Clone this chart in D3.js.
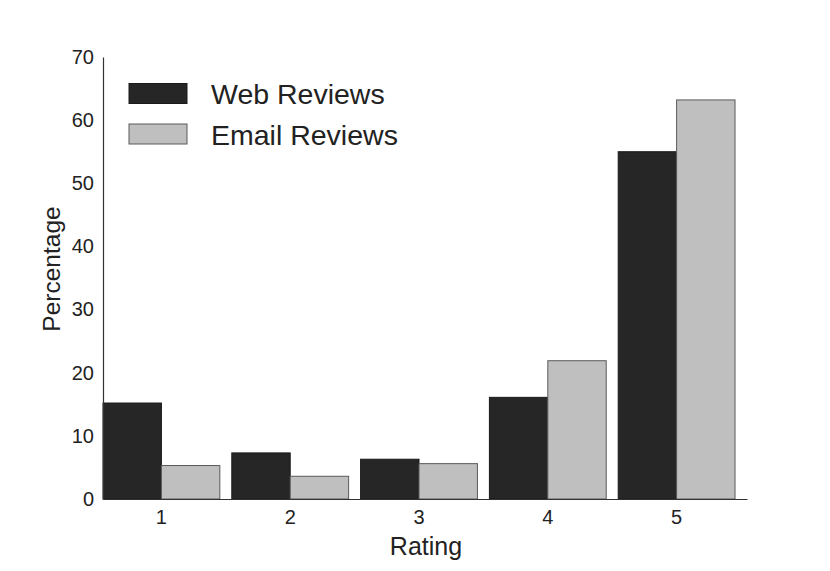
<!DOCTYPE html>
<html>
<head>
<meta charset="utf-8">
<script src="https://cdn.jsdelivr.net/npm/d3@7"></script>
<style>
  body { margin: 0; background: #fff; }
  text { font-family: "Liberation Sans", Arial, sans-serif; fill: #222; }
</style>
</head>
<body>
<svg width="830" height="571"></svg>
<script>
var ratings = ["1", "2", "3", "4", "5"];
var seriesNames = ["Web Reviews", "Email Reviews"];
var webValues = [15.2, 7.3, 6.3, 16.1, 55.0];
var emailValues = [5.3, 3.6, 5.6, 21.9, 63.2];
var yTicks = [0, 10, 20, 30, 40, 50, 60, 70];

var svg = d3.select("svg"),
    plotLeft = 103, plotRight = 747, plotTop = 57, plotBottom = 499;

var fills = ["#262626", "#bfbfbf"],
    strokes = ["#1a1a1a", "#5a5a5a"];

var x = d3.scaleBand()
    .domain(ratings)
    .range([plotLeft, plotRight])
    .paddingInner(0.093)
    .paddingOuter(0.0465)
    .align(0);

var x1 = d3.scaleBand()
    .domain([0, 1])
    .range([0, x.bandwidth()]);

var y = d3.scaleLinear()
    .domain([0, 70])
    .range([plotBottom, plotTop]);

var rows = ratings.map(function(r, i) {
    return {rating: r, values: [webValues[i], emailValues[i]]};
});

// bars
var groups = svg.append("g").selectAll("g")
    .data(rows)
    .enter().append("g")
    .attr("transform", function(d) { return "translate(" + x(d.rating) + ",0)"; });

groups.selectAll("rect")
    .data(function(d) { return d.values; })
    .enter().append("rect")
    .attr("x", function(d, i) { return x1(i); })
    .attr("y", function(d) { return y(d); })
    .attr("width", x1.bandwidth())
    .attr("height", function(d) { return plotBottom - y(d); })
    .attr("fill", function(d, i) { return fills[i]; })
    .attr("stroke", function(d, i) { return strokes[i]; })
    .attr("stroke-width", 1);

// axes
var yAxis = d3.axisLeft(y).tickValues(yTicks).tickSize(0).tickPadding(9);
var xAxis = d3.axisBottom(x).tickSize(0).tickPadding(11);

var gy = svg.append("g")
    .attr("transform", "translate(" + plotLeft + ",0)")
    .call(yAxis);
gy.select(".domain").attr("stroke", "#333").attr("stroke-width", 1.2);
gy.selectAll("text").style("font-size", "20px").attr("fill", "#222");

var gx = svg.append("g")
    .attr("transform", "translate(0," + plotBottom + ")")
    .call(xAxis);
gx.select(".domain").attr("stroke", "#333").attr("stroke-width", 1.2);
gx.selectAll("text").style("font-size", "20px").attr("fill", "#222");

// axis titles
svg.append("text")
    .attr("x", 426)
    .attr("y", 555)
    .attr("text-anchor", "middle")
    .style("font-size", "25px")
    .text("Rating");

svg.append("text")
    .attr("transform", "translate(60,269) rotate(-90)")
    .attr("text-anchor", "middle")
    .style("font-size", "24.5px")
    .text("Percentage");

// legend
var legend = svg.append("g").selectAll("g")
    .data(seriesNames)
    .enter().append("g")
    .attr("transform", function(d, i) { return "translate(129," + (83.5 + i * 40.5) + ")"; });

legend.append("rect")
    .attr("width", 58)
    .attr("height", 20)
    .attr("fill", function(d, i) { return fills[i]; })
    .attr("stroke", function(d, i) { return strokes[i]; });

legend.append("text")
    .attr("x", 82)
    .attr("y", 20.5)
    .style("font-size", "28.5px")
    .text(function(d) { return d; });
</script>
</body>
</html>
